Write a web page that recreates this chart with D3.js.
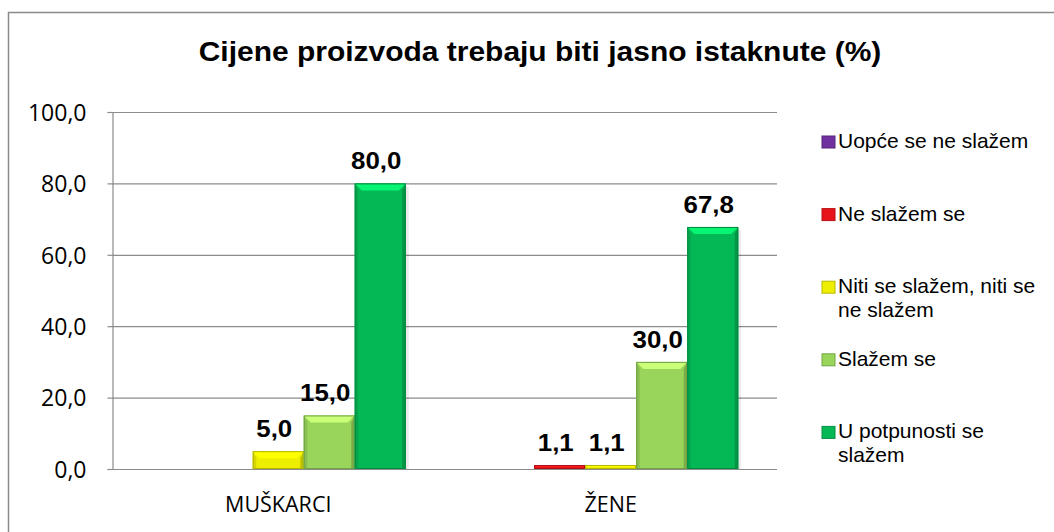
<!DOCTYPE html>
<html>
<head>
<meta charset="utf-8">
<script src="https://cdn.jsdelivr.net/npm/d3@7"></script>
<style>
  body { margin: 0; background: #fff; }
  svg { display: block; }
</style>
</head>
<body>
<div id="chart"></div>
<script>
var categories = ["MUŠKARCI", "ŽENE"];
var seriesNames = ["Uopće se ne slažem", "Ne slažem se", "Niti se slažem, niti se ne slažem", "Slažem se", "U potpunosti se slažem"];
var legendLines = [["Uopće se ne slažem"], ["Ne slažem se"], ["Niti se slažem, niti se", "ne slažem"], ["Slažem se"], ["U potpunosti se", "slažem"]];
var muskarci = [0, 0, 5.0, 15.0, 80.0];
var zene = [0, 1.1, 1.1, 30.0, 67.8];
var yTicks = [0, 20, 40, 60, 80, 100];
var colors = ["#7030A0", "#E8141B", "#EEEE00", "#98D55A", "#05B856"];

var width = 1054, height = 532;
var margin = {top: 112, right: 277, bottom: 63, left: 112};

var svg = d3.select("#chart").append("svg")
    .attr("width", width)
    .attr("height", height);

// chart border (runs off the right and bottom edges)
svg.append("rect")
    .attr("x", 8.5).attr("y", 12.5)
    .attr("width", 1100).attr("height", 600)
    .attr("fill", "none")
    .attr("stroke", "#8a8a8a")
    .attr("stroke-width", 1.5);

var fmt = function(v) { return d3.format(".1f")(v).replace(".", ","); };

// bold texts in the picture are a bit wider than Arial, so stretch them
function stretched(sel, x, y, k) {
  return sel.attr("transform", "translate(" + x + "," + y + ") scale(" + k + ",1)");
}

stretched(svg.append("text"), 540, 61, 1.09)
    .attr("text-anchor", "middle")
    .attr("font-family", "Liberation Sans, Arial, sans-serif")
    .attr("font-weight", "bold")
    .attr("font-size", 27.5)
    .text("Cijene proizvoda trebaju biti jasno istaknute (%)");

var y = d3.scaleLinear().domain([0, 100]).range([height - margin.bottom, margin.top]);
var x0 = d3.scaleBand().domain(categories).range([margin.left, width - margin.right]);
var x1 = d3.scaleBand().domain(seriesNames).range([0, x0.bandwidth()]).paddingOuter(0.76);

// gridlines
svg.append("g").selectAll("line")
    .data(yTicks)
    .enter().append("line")
    .attr("x1", margin.left).attr("x2", width - margin.right)
    .attr("y1", d => y(d) + 0.5).attr("y2", d => y(d) + 0.5)
    .attr("stroke", "#8c8c8c")
    .attr("stroke-width", 1.2);

// y axis
var yAxis = svg.append("g")
    .attr("transform", "translate(" + (margin.left + 0.5) + ",0)")
    .call(d3.axisLeft(y).tickValues(yTicks).tickFormat(fmt).tickSize(5).tickPadding(21));
yAxis.select(".domain").attr("stroke", "#8c8c8c").attr("stroke-width", 1.2);
yAxis.selectAll(".tick line").attr("stroke", "#8c8c8c").attr("stroke-width", 1.2);
yAxis.selectAll(".tick text")
    .attr("font-family", "Open Sans, sans-serif")
    .attr("font-size", 23)
    .attr("fill", "#000")
    .attr("dy", "0.36em");

// category labels
svg.append("g").selectAll("text")
    .data(categories)
    .enter().append("text")
    .attr("x", d => x0(d) + x0.bandwidth() / 2)
    .attr("y", 512)
    .attr("text-anchor", "middle")
    .attr("font-family", "Open Sans, sans-serif")
    .attr("font-size", 21.5)
    .text(d => d);

var rows = [muskarci, zene].map(function(vals, ci) {
  return vals.map(function(v, si) {
    return {cat: categories[ci], series: seriesNames[si], value: v, color: colors[si]};
  });
});
var bars = rows[0].concat(rows[1]).filter(d => d.value > 0);

var bevel = 7;
var g = svg.append("g").selectAll("g.bar")
    .data(bars)
    .enter().append("g")
    .attr("class", "bar");

function geom(d) {
  var xl = x0(d.cat) + x1(d.series);
  var xr = xl + x1.bandwidth();
  var yt = y(d.value), yb = y(0);
  var b = Math.min(bevel, (yb - yt) / 2, x1.bandwidth() / 2);
  return {xl: xl, xr: xr, yt: yt, yb: yb, b: b};
}
function pts(arr) { return arr.map(p => p.join(",")).join(" "); }

// soft shadow on the right
g.append("rect")
    .attr("x", d => geom(d).xr)
    .attr("y", d => geom(d).yt + 3)
    .attr("width", 3)
    .attr("height", d => geom(d).yb - geom(d).yt - 3)
    .attr("fill", "#000")
    .attr("opacity", 0.08);

g.append("rect")
    .attr("x", d => geom(d).xl)
    .attr("y", d => geom(d).yt)
    .attr("width", x1.bandwidth())
    .attr("height", d => geom(d).yb - geom(d).yt)
    .attr("fill", d => d.color);

// top bevel
g.append("polygon")
    .attr("points", function(d) {
      var q = geom(d);
      return pts([[q.xl, q.yt], [q.xr, q.yt], [q.xr - q.b, q.yt + q.b], [q.xl + q.b, q.yt + q.b]]);
    })
    .attr("fill", d => d3.color(d.color).brighter(0.8));
// left bevel
g.append("polygon")
    .attr("points", function(d) {
      var q = geom(d);
      return pts([[q.xl, q.yt], [q.xl + q.b * 0.5, q.yt + q.b], [q.xl + q.b * 0.5, q.yb], [q.xl, q.yb]]);
    })
    .attr("fill", d => d3.color(d.color).darker(0.3));
// right bevel
g.append("polygon")
    .attr("points", function(d) {
      var q = geom(d);
      return pts([[q.xr, q.yt], [q.xr - q.b * 0.5, q.yt + q.b], [q.xr - q.b * 0.5, q.yb], [q.xr, q.yb]]);
    })
    .attr("fill", d => d3.color(d.color).darker(0.6));
// outline
g.append("rect")
    .attr("x", d => geom(d).xl + 0.5)
    .attr("y", d => geom(d).yt + 0.5)
    .attr("width", x1.bandwidth() - 1)
    .attr("height", d => Math.max(0, geom(d).yb - geom(d).yt - 1))
    .attr("fill", "none")
    .attr("stroke", d => d3.color(d.color).darker(0.8))
    .attr("stroke-width", 1);

// value labels
g.each(function(d) {
  var q = geom(d);
  stretched(d3.select(this).append("text"), (q.xl + q.xr) / 2 - 4, q.yt - 14, 1.1)
      .attr("text-anchor", "middle")
      .attr("font-family", "Liberation Sans, Arial, sans-serif")
      .attr("font-weight", "bold")
      .attr("font-size", 23.5)
      .text(fmt(d.value));
});

// x axis baseline
svg.append("line")
    .attr("x1", margin.left).attr("x2", width - margin.right)
    .attr("y1", y(0) + 0.5).attr("y2", y(0) + 0.5)
    .attr("stroke", "#8c8c8c")
    .attr("stroke-width", 1.2);

// legend
var legend = svg.append("g").selectAll("g")
    .data(seriesNames)
    .enter().append("g")
    .attr("transform", (d, i) => "translate(822," + (148 + i * 72.6) + ")");

legend.append("rect")
    .attr("x", 0).attr("y", -12)
    .attr("width", 13).attr("height", 12)
    .attr("fill", (d, i) => colors[i])
    .attr("stroke", (d, i) => d3.color(colors[i]).darker(0.7))
    .attr("stroke-width", 1);

legend.append("text")
    .attr("font-family", "Liberation Sans, Arial, sans-serif")
    .attr("font-size", 21)
    .each(function(d, i) {
      d3.select(this).selectAll("tspan")
          .data(legendLines[i])
          .enter().append("tspan")
          .attr("x", 16)
          .attr("y", (t, j) => j * 23.5)
          .text(t => t);
    });
</script>
</body>
</html>
